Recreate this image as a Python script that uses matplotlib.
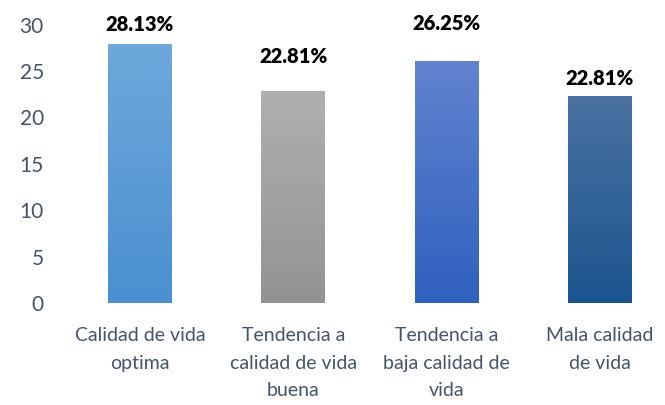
import matplotlib
matplotlib.use("Agg")
import matplotlib.pyplot as plt
import numpy as np
from matplotlib.colors import LinearSegmentedColormap

categories = ["Calidad de vida\noptima", "Tendencia a\ncalidad de vida\nbuena",
              "Tendencia a\nbaja calidad de\nvida", "Mala calidad\nde vida"]
values = [27.9, 22.85, 26.1, 22.3]
value_labels = ["28.13%", "22.81%", "26.25%", "22.81%"]
yticks = [0, 5, 10, 15, 20, 25, 30]

top_colors = ["#6EA8DC", "#B0B0B0", "#6283D0", "#4A72A0"]
bottom_colors = ["#4A8FD0", "#939393", "#2E61BE", "#1B5590"]
label_offsets_px = [20, 34, 37, 18]

plt.rcParams['font.family'] = ['Lato', 'DejaVu Sans']

W, H = 665, 405
fig = plt.figure(figsize=(W / 100, H / 100), dpi=100)
ax_left, ax_right = 55, 665
ax_top, ax_bottom = 24.6, 303
ax = fig.add_axes([ax_left / W, (H - ax_bottom) / H, (ax_right - ax_left) / W, (ax_bottom - ax_top) / H])

px_per = 460 / 3
xlim = (-(140 - ax_left) / px_per, 3 + (ax_right - 600) / px_per)

x = np.arange(len(categories))
bw = 64 / px_per
bars = ax.bar(x, values, width=bw, color="none", edgecolor="none")
grad = np.linspace(1, 0, 256).reshape(-1, 1)
for b, tc, bc in zip(bars, top_colors, bottom_colors):
    cmap = LinearSegmentedColormap.from_list("g", [bc, tc])
    x0, y0 = b.get_x(), b.get_y()
    im = ax.imshow(grad, cmap=cmap, aspect="auto",
                   extent=[x0, x0 + b.get_width(), y0, y0 + b.get_height()],
                   origin="upper", zorder=2)
    im.set_clip_path(b)
ax.set_xlim(*xlim)
ax.set_ylim(0, 30)

for xi, v, lab, off in zip(x, values, value_labels, label_offsets_px):
    ax.annotate(lab, (xi, v), xytext=(0, off * 0.72), textcoords="offset points",
                ha="center", va="center", fontsize=14.5, fontweight="heavy",
                color="black", annotation_clip=False)

for s in ax.spines.values():
    s.set_visible(False)
ax.set_yticks(yticks)
ax.set_xticks(x)
ax.set_xticklabels(categories, linespacing=1.75)
ax.tick_params(axis="both", length=0, labelcolor="#44546A")
ax.tick_params(axis="x", labelsize=14, pad=17.5)
ax.tick_params(axis="y", labelsize=15, pad=8)

fig.savefig("out.png", dpi=100)
